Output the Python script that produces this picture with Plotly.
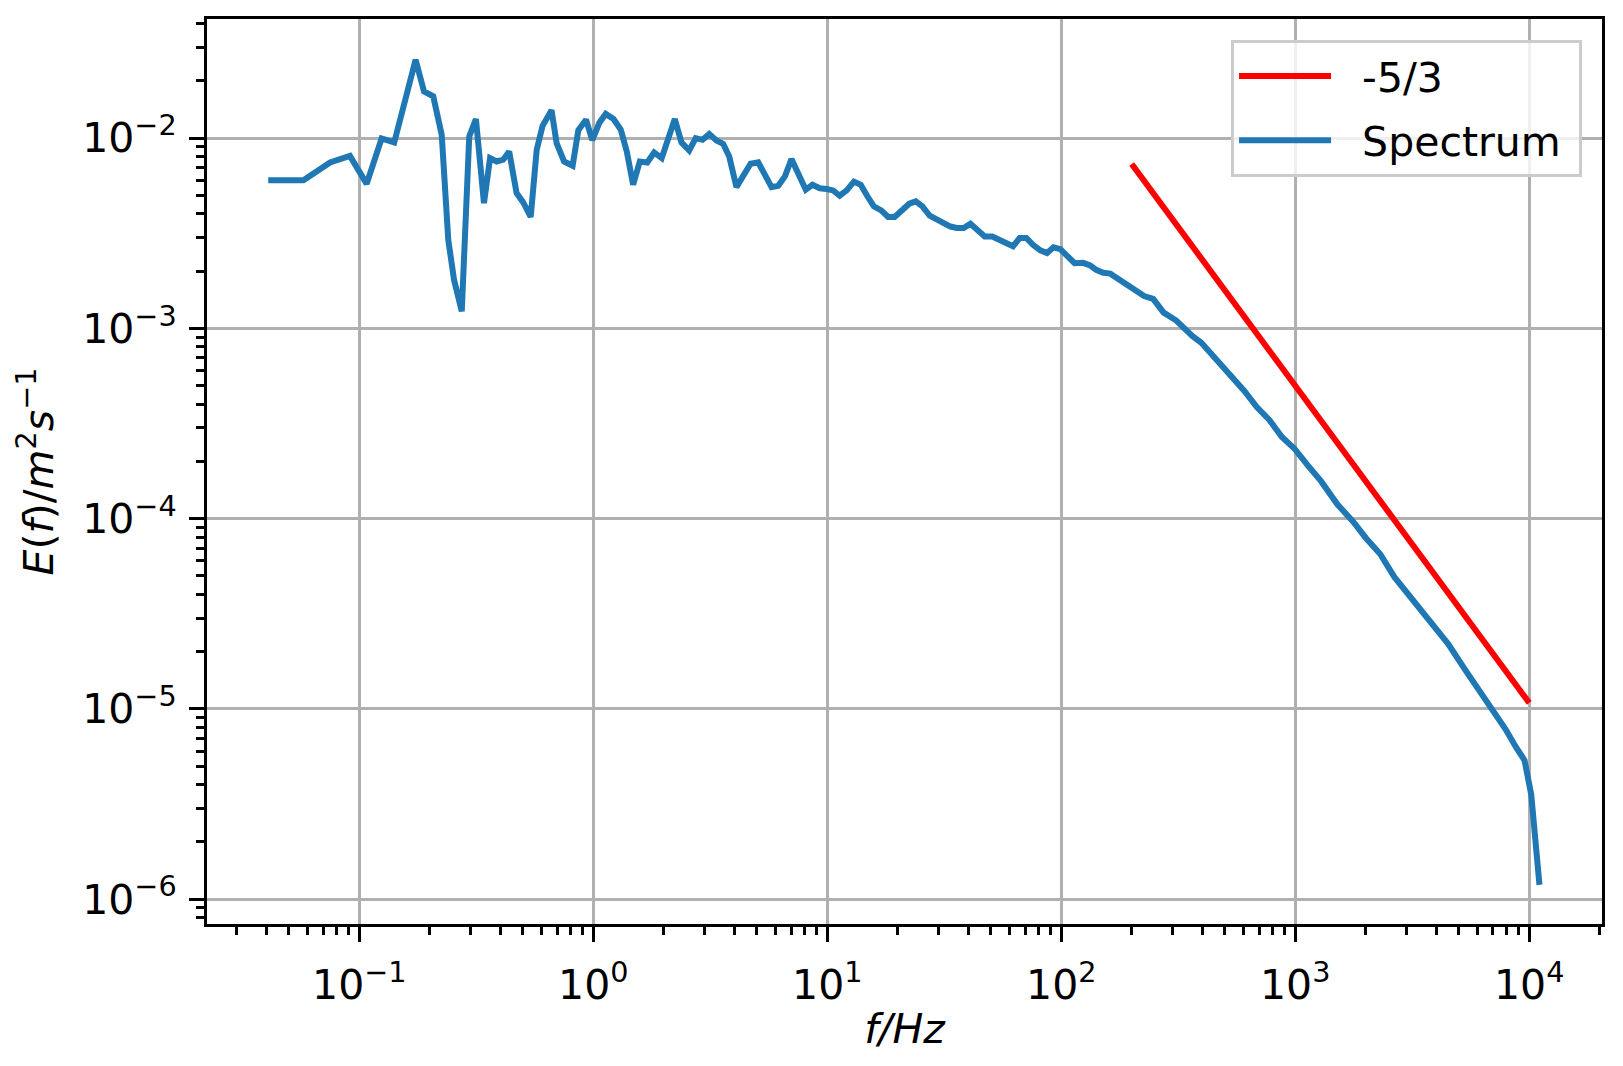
import plotly.graph_objects as go

# spectrum (f in Hz, E in m^2/s)
freq = [0.0408, 0.0577, 0.075, 0.0912, 0.1075, 0.1245, 0.141, 0.159, 0.174, 0.189,
        0.207, 0.225, 0.240, 0.254, 0.274, 0.295, 0.315, 0.341, 0.362, 0.386,
        0.412, 0.437, 0.470, 0.502, 0.540, 0.573, 0.607, 0.663, 0.697, 0.750,
        0.816, 0.863, 0.931, 0.99, 1.06, 1.13, 1.22, 1.31, 1.39, 1.48,
        1.58, 1.70, 1.82, 1.96, 2.09, 2.23, 2.38, 2.57, 2.74, 2.93,
        3.13, 3.36, 3.59, 3.81, 4.09, 4.40, 4.70, 5.07, 5.41, 5.78,
        6.17, 6.59, 7.03, 7.50, 8.09, 8.64, 9.29, 9.92, 10.6, 11.3,
        12.1, 13.0, 13.9, 14.8, 15.8, 17.0, 18.2, 19.4, 20.7, 22.4,
        23.9, 25.5, 27.4, 29.3, 31.2, 33.6, 35.8, 38.3, 40.9, 44.1,
        47.1, 50.7, 54.2, 57.8, 62.2, 66.4, 70.9, 75.7, 81.4, 86.9,
        92.7, 99.1, 107, 114, 124, 133, 141, 151, 162, 174,
        186, 204, 226, 247, 260, 274, 310, 339, 364, 397,
        449, 508, 606, 685, 775, 877, 991, 1122, 1291, 1513,
        1772, 2003, 2306, 2655, 3056, 3708, 4500, 5370, 6180, 6990,
        7900, 8780, 9550, 10200, 11060]
energy = [6.0e-3, 6.0e-3, 7.45e-3, 8.07e-3, 5.75e-3, 9.96e-3, 9.49e-3, 1.72e-2, 2.58e-2, 1.76e-2,
          1.66e-2, 1.04e-2, 2.92e-3, 1.80e-3, 1.23e-3, 1.02e-2, 1.26e-2, 4.55e-3, 7.85e-3, 7.54e-3,
          7.7e-3, 8.51e-3, 5.14e-3, 4.59e-3, 3.85e-3, 8.69e-3, 1.16e-2, 1.40e-2, 9.41e-3, 7.54e-3,
          7.16e-3, 1.10e-2, 1.25e-2, 9.75e-3, 1.20e-2, 1.34e-2, 1.26e-2, 1.11e-2, 8.5e-3, 5.69e-3,
          7.54e-3, 7.45e-3, 8.41e-3, 7.85e-3, 1.0e-2, 1.26e-2, 9.49e-3, 8.61e-3, 1.0e-2, 9.8e-3,
          1.05e-2, 9.72e-3, 9.33e-3, 8.01e-3, 5.53e-3, 6.34e-3, 7.33e-3, 7.45e-3, 6.41e-3, 5.53e-3,
          5.62e-3, 6.29e-3, 7.76e-3, 6.41e-3, 5.36e-3, 5.69e-3, 5.45e-3, 5.40e-3, 5.31e-3, 4.98e-3,
          5.31e-3, 5.91e-3, 5.69e-3, 4.98e-3, 4.38e-3, 4.17e-3, 3.85e-3, 3.85e-3, 4.17e-3, 4.52e-3,
          4.65e-3, 4.38e-3, 3.91e-3, 3.75e-3, 3.65e-3, 3.43e-3, 3.37e-3, 3.37e-3, 3.55e-3, 3.23e-3,
          3.04e-3, 3.04e-3, 2.94e-3, 2.80e-3, 2.70e-3, 2.99e-3, 2.99e-3, 2.75e-3, 2.57e-3, 2.49e-3,
          2.67e-3, 2.61e-3, 2.39e-3, 2.20e-3, 2.21e-3, 2.14e-3, 2.03e-3, 1.96e-3, 1.94e-3, 1.83e-3,
          1.71e-3, 1.62e-3, 1.48e-3, 1.43e-3, 1.33e-3, 1.21e-3, 1.10e-3, 9.78e-4, 9.10e-4, 8.41e-4,
          7.12e-4, 5.96e-4, 4.69e-4, 3.86e-4, 3.30e-4, 2.69e-4, 2.34e-4, 1.93e-4, 1.57e-4, 1.19e-4,
          9.62e-5, 7.92e-5, 6.52e-5, 4.93e-5, 3.99e-5, 2.99e-5, 2.20e-5, 1.58e-5, 1.23e-5, 1.01e-5,
          7.87e-6, 6.30e-6, 5.37e-6, 3.55e-6, 1.19e-6]

# -5/3 reference line end points
ref_freq = [200, 10000]
ref_energy = [7.31e-3, 1.077e-5]

x_tickvals = [0.1, 1, 10, 100, 1000, 10000]
x_ticktext = ["10<sup>\u22121</sup>", "10<sup>0</sup>", "10<sup>1</sup>",
              "10<sup>2</sup>", "10<sup>3</sup>", "10<sup>4</sup>"]
y_tickvals = [1e-6, 1e-5, 1e-4, 1e-3, 1e-2]
y_ticktext = ["10<sup>\u22126</sup>", "10<sup>\u22125</sup>", "10<sup>\u22124</sup>",
              "10<sup>\u22123</sup>", "10<sup>\u22122</sup>"]

FONT = "DejaVu Sans"
GRID = "#b0b0b0"
GAP = "\u00a0\u00a0"  # little space between legend line and label
TAIL = "\u00a0"

fig = go.Figure()
fig.add_trace(go.Scatter(x=ref_freq, y=ref_energy, mode="lines", name=GAP + "-5/3",
                         legendgroup="ref", line=dict(color="red", width=6)))
fig.add_trace(go.Scatter(x=freq, y=energy, mode="lines", name=GAP + "Spectrum" + TAIL,
                         legendgroup="spec", line=dict(color="#1f77b4", width=6)))

axis_common = dict(
    type="log", showline=True, linecolor="black", linewidth=3.3, mirror=True,
    showgrid=True, gridcolor=GRID, gridwidth=3.3, zeroline=False,
    ticks="outside", ticklen=15, tickwidth=3.3, tickcolor="black",
    tickmode="array", automargin=False,
    tickfont=dict(family=FONT, size=41, color="black"),
    minor=dict(dtick="D1", ticks="outside", ticklen=8, tickwidth=2.5,
               tickcolor="black", showgrid=False),
)

# page body adds an 8px offset, so the figure is 8px smaller than the window
fig.update_layout(
    width=1615, height=1058,
    margin=dict(l=199, r=21, t=11, b=142, autoexpand=False),
    paper_bgcolor="white", plot_bgcolor="white",
    font=dict(family=FONT, size=41, color="black"),
    showlegend=True,
    legend=dict(x=0.9857, y=0.977, xanchor="right", yanchor="top", itemwidth=92,
                tracegroupgap=8,
                bgcolor="rgba(255,255,255,0.8)", bordercolor="#cccccc", borderwidth=3,
                font=dict(family=FONT, size=41, color="black")),
    xaxis=dict(axis_common, range=[-1.651, 4.311], ticklabelstandoff=8,
               tickvals=x_tickvals, ticktext=x_ticktext,
               title=dict(text="<i>f/Hz</i>", standoff=6,
                          font=dict(family=FONT, size=41))),
    yaxis=dict(axis_common, range=[-6.130, -1.374], ticklabelstandoff=4,
               tickvals=y_tickvals, ticktext=y_ticktext,
               title=dict(text="<i>E</i>(<i>f</i>)/<i>m</i><sup>2</sup><i>s</i><sup>\u22121</sup>",
                          standoff=16, font=dict(family=FONT, size=41))),
)

fig.write_html("out.html")
